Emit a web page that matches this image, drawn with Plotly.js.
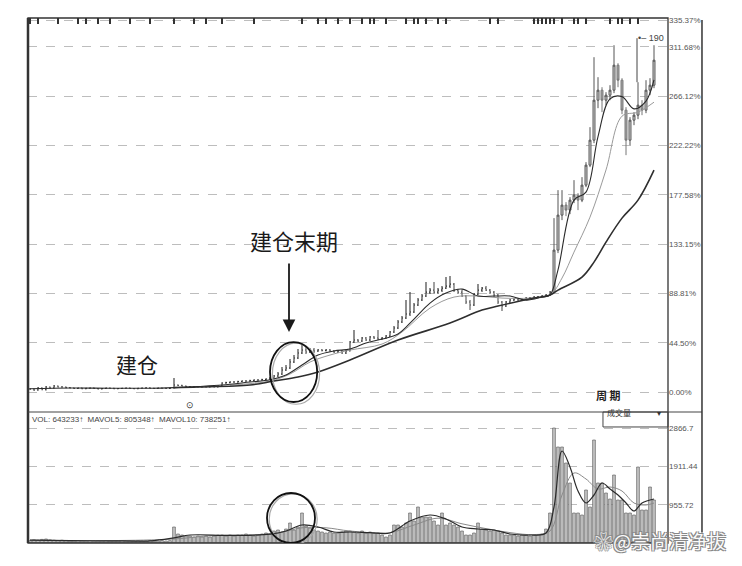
<!DOCTYPE html>
<html><head><meta charset="utf-8">
<script src="https://cdn.plot.ly/plotly-3.0.1.min.js"></script>
<style>html,body{margin:0;padding:0;background:#fff}#chart{width:742px;height:566px}</style>
</head><body><div id="chart"></div>
<script>
// ---- price bars (percent gain) ----
const openP = [3.0,2.7,1.8,3.6,2.0,4.5,3.6,5.4,4.5,4.5,
 4.0,3.6,3.2,3.6,3.0,3.4,3.6,3.2,2.8,3.2,3.6,3.4,3.0,3.2,3.4,3.6,3.2,3.0,3.4,3.6,3.8,3.4,3.2,3.6,3.4,3.2,
 3.6,
 6.3,6.0,5.4,5.0,4.8,4.5,4.5,4.8,4.5,5.0,4.5,
 5.4,8.1,8.5,9.0,9.0,9.5,9.9,9.9,10.3,10.8,10.8,11.2,11.7,
 12.6,14.4,16.2,19.8,21.6,27.0,30.6,35.1,37.8,36.0,37.8,
 36.9,37.8,37.4,37.8,36.9,36.0,36.9,35.1,
 36.9,45.0,46.8,45.9,48.6,46.8,49.5,48.6,47.7,48.6,50.4,54.0,57.6,63.0,66.6,70.2,72.0,78.3,82.8,86.4,90.0,91.8,90.0,91.8,93.6,95.4,97.2,91.8,90.0,86.4,81.0,78.3,88.2,91.8,93.6,91.8,90.0,87.3,81.0,77.4,81.0,82.8,83.7,82.8,83.7,84.6,84.6,85.5,85.5,86.4,87.3,
 90.0,127.8,159.3,168.3,163.8,172.8,177.3,172.8,186.3,204.3,226.8,262.8,271.8,262.8,267.3,271.8,294.3,280.8,253.8,226.8,244.8,249.3,258.3,253.8,271.8,276.3];
const highP = [3.6,3.2,4.5,4.2,5.4,5.0,6.3,5.9,5.4,5.0,
 4.5,4.0,4.1,4.0,3.9,4.1,4.0,3.6,3.6,4.1,4.0,3.8,3.6,3.8,4.1,4.0,3.6,3.8,4.1,4.3,4.2,3.8,4.0,4.0,3.8,4.0,
 12.6,
 6.8,6.5,5.9,5.5,5.3,5.0,5.3,5.3,5.5,5.5,5.9,
 8.8,9.2,9.7,9.7,10.2,10.6,10.6,11.0,11.5,11.5,11.9,12.4,13.5,
 15.3,18.0,22.5,24.3,29.7,33.3,38.7,42.3,40.5,39.6,39.6,
 38.7,38.7,38.7,38.7,37.8,37.8,37.8,37.8,
 45.9,55.8,47.7,49.5,49.5,50.4,50.4,55.8,49.5,51.3,54.9,59.4,64.8,68.4,82.8,90.0,80.1,84.6,88.2,99.0,93.6,99.0,93.6,95.4,103.5,104.4,98.1,92.7,91.8,87.3,82.8,89.1,97.2,94.5,95.4,92.7,90.9,88.2,81.9,81.9,83.7,84.6,84.6,84.6,85.5,85.5,86.4,86.4,87.3,88.2,90.9,
 156.6,181.8,181.8,171.0,175.5,190.8,179.1,193.5,207.0,238.5,301.5,283.5,274.5,270.0,276.3,312.3,296.1,282.6,256.5,247.5,252.0,279.0,262.8,280.8,282.6,312.3];
const lowP = [1.8,1.0,1.2,1.5,1.4,3.0,3.0,4.0,3.8,3.4,
 3.1,2.7,2.7,2.5,2.5,2.9,2.7,2.3,2.3,2.7,2.9,2.5,2.5,2.7,2.9,2.7,2.5,2.5,2.9,3.1,2.9,2.7,2.7,2.9,2.7,2.7,
 3.2,
 5.5,4.9,4.5,4.3,4.0,4.0,4.0,4.0,4.0,4.0,4.0,
 5.0,7.4,7.8,8.3,8.3,8.8,9.2,9.2,9.6,10.1,10.1,10.5,11.0,
 11.7,13.5,15.3,18.9,20.7,26.1,29.7,34.2,34.2,35.1,35.1,
 36.0,36.5,36.5,36.0,35.1,35.1,34.2,34.2,
 36.5,44.1,45.0,45.0,45.9,45.9,47.7,46.8,46.8,47.7,49.5,53.1,56.7,62.1,65.7,68.4,71.1,77.4,81.9,85.5,88.2,88.2,88.2,90.0,92.7,93.6,90.0,88.2,85.5,79.2,73.8,77.4,87.3,90.0,90.9,88.2,85.5,79.2,72.9,76.5,80.1,81.9,81.9,81.9,82.8,83.7,83.7,84.6,84.6,85.5,86.4,
 89.1,125.1,154.8,158.4,160.2,170.1,163.8,171.0,184.5,202.5,224.1,255.6,252.0,258.3,262.8,269.1,274.5,250.2,213.3,222.3,240.3,245.7,249.3,251.1,267.3,273.6];
const closeP = [2.7,1.8,3.6,2.0,4.5,3.6,5.4,4.5,4.5,4.0,
 3.6,3.2,3.6,3.0,3.4,3.6,3.2,2.8,3.2,3.6,3.4,3.0,3.2,3.4,3.6,3.2,3.0,3.4,3.6,3.8,3.4,3.2,3.6,3.4,3.2,3.6,
 6.3,
 6.0,5.4,5.0,4.8,4.5,4.5,4.8,4.5,5.0,4.5,5.4,
 8.1,8.5,9.0,9.0,9.5,9.9,9.9,10.3,10.8,10.8,11.2,11.7,12.6,
 14.4,16.2,19.8,21.6,27.0,30.6,35.1,37.8,36.0,37.8,36.9,
 37.8,37.4,37.8,36.9,36.0,36.9,35.1,36.9,
 45.0,46.8,45.9,48.6,46.8,49.5,48.6,47.7,48.6,50.4,54.0,57.6,63.0,66.6,70.2,72.0,78.3,82.8,86.4,90.0,91.8,90.0,91.8,93.6,95.4,97.2,91.8,90.0,86.4,81.0,78.3,88.2,91.8,93.6,91.8,90.0,87.3,81.0,77.4,81.0,82.8,83.7,82.8,83.7,84.6,84.6,85.5,85.5,86.4,87.3,90.0,
 127.8,159.3,168.3,163.8,172.8,177.3,172.8,186.3,204.3,226.8,262.8,271.8,262.8,267.3,271.8,294.3,280.8,253.8,226.8,244.8,249.3,258.3,253.8,271.8,276.3,298.8];

// ---- volume ----
const volume = [60,80,70,90,100,80,70,60,70,60,50,50,60,50,50,60,50,50,50,60,50,50,50,60,50,50,50,60,50,50,60,50,50,60,50,60,
 400,
 225,200,175,175,150,175,150,175,150,175,200,
 200,175,200,175,200,200,225,200,175,200,225,250,225,
 300,325,275,350,500,325,400,750,425,375,325,
 300,275,250,275,250,250,275,300,
 300,275,250,300,250,275,250,250,200,150,200,450,450,400,500,750,550,900,650,650,650,550,450,750,450,500,450,400,300,200,200,250,500,350,325,300,325,300,250,200,200,200,175,200,200,175,200,200,225,350,750,
 2875,2400,2400,2000,1500,750,750,700,1325,900,2575,1500,1500,1250,1100,1700,1075,1075,750,750,700,1900,825,825,1400,1075];

// ---- moving averages (bar index, value) ----
const maLongIdx = [36,42,55,61,67,72,80,92,105,113,117,126,130,132,138,141,144,148,152,156];
const maLongVal = [4.0,4.5,6.3,9.9,13.5,18.0,28.8,46.8,62.1,73.8,77.4,84.6,87.3,91.8,103.5,117.0,135.0,156.6,172.8,199.8];
const maMidIdx = [50,60,65,70,75,80,88,93,100,106,112,118,125,130,133,136,140,144,148,152,156];
const maMidVal = [6.3,9.9,16.2,27.0,33.3,37.8,43.2,54.0,75.6,85.5,86.4,84.6,84.6,87.3,102.6,126.0,157.5,200.0,248.4,252.0,261.0];
const maShortIdx = [0,10,20,30,36,42,48,55,60,64,68,72,76,80,84,88,92,96,100,104,108,112,116,120,124,128,130,132,136,139,142,145,148,151,154,156];
const maShortVal = [3.0,3.6,3.4,3.4,4.0,5.0,6.3,9.0,11.0,15.3,24.3,33.3,37.0,38.7,44.1,47.7,52.2,65.7,80.1,89.1,92.7,86.4,86.4,86.4,82.8,85.5,87.3,110.0,172.8,180.0,230.0,264.0,266.0,255.0,262.0,281.0];
const vma5Idx = [0,10,20,30,36,40,50,60,64,68,72,76,80,85,90,95,100,104,108,112,116,120,125,129,131,133,135,137,139,141,143,145,147,149,151,153,156];
const vma5Val = [70,60,55,55,130,200,190,220,300,450,400,275,275,260,250,550,700,600,400,350,325,225,200,250,900,2300,1900,1300,1000,1200,1500,1350,1200,1000,800,1000,1100];
const vma10Idx = [0,20,36,45,55,62,68,74,80,90,96,102,108,114,120,126,130,133,136,139,142,145,148,151,154,156];
const vma10Val = [70,60,100,180,200,250,380,380,300,260,450,620,480,360,260,210,300,1200,1750,1600,1350,1400,1300,1000,950,1000];

// ---- axis ticks ----
const priceTicks = [0,44.4,88.8,133.2,177.6,222.0,266.4,310.8,334.8];
const priceTickText = ["0.00%","44.50%","88.81%","133.15%","177.58%","222.22%","266.12%","311.68%","335.37%"];
const volTicks = [955.6,1911.1,2866.7];
const volTickText = ["955.72","1911.44","2866.7"];
const topMarks = [0,2,7,12,14,17,20,25,30,36,41,44,48,56,68,72,74,77,80,83,85,86,89,94,96,97,99,102,104,115,117,126,127,128,129,130,131,133,136,137,139,145,147,148,150,152];

const bars = closeP.map((_, i) => i);
const markIdx = 152;
const split0 = 131; // quiet phase drawn as thin bars, breakout phase as candles
const sl = (a, s, e) => a.slice(s, e);

const traces = [
 {type:'ohlc', x:sl(bars,0,split0), open:sl(openP,0,split0), high:sl(highP,0,split0), low:sl(lowP,0,split0), close:sl(closeP,0,split0),
  xaxis:'x', yaxis:'y', tickwidth:0.25,
  increasing:{line:{color:'#333',width:1.1}}, decreasing:{line:{color:'#555',width:1.1}}, hoverinfo:'skip'},
 {type:'candlestick', x:sl(bars,split0), open:sl(openP,split0), high:sl(highP,split0), low:sl(lowP,split0), close:sl(closeP,split0),
  xaxis:'x', yaxis:'y',
  increasing:{line:{color:'#555',width:1}, fillcolor:'#d6d6d6'},
  decreasing:{line:{color:'#777',width:1}, fillcolor:'#a8a8a8'},
  whiskerwidth:0, hoverinfo:'skip'},
 {type:'scatter', mode:'lines', x:maMidIdx, y:maMidVal, line:{color:'#9a9a9a',width:1,shape:'spline'}, yaxis:'y', hoverinfo:'skip'},
 {type:'scatter', mode:'lines', x:maShortIdx, y:maShortVal, line:{color:'#2a2a2a',width:1.1,shape:'spline'}, yaxis:'y', hoverinfo:'skip'},
 {type:'scatter', mode:'lines', x:maLongIdx, y:maLongVal, line:{color:'#2e2e2e',width:1.6,shape:'spline'}, yaxis:'y', hoverinfo:'skip'},
 {type:'bar', x:bars, y:volume, yaxis:'y2', width:0.7, marker:{color:'#c2c2c2', line:{color:'#555',width:0.6}}, hoverinfo:'skip'},
 {type:'scatter', mode:'lines', x:vma10Idx, y:vma10Val, yaxis:'y2', line:{color:'#8a8a8a',width:1,shape:'spline'}, hoverinfo:'skip'},
 {type:'scatter', mode:'lines', x:vma5Idx, y:vma5Val, yaxis:'y2', line:{color:'#2a2a2a',width:1.2,shape:'spline'}, hoverinfo:'skip'}
];

const split = 0.2495;
const cjk = '"Noto Sans CJK SC", "Noto Sans", sans-serif';
const layout = {
 width:742, height:566, margin:{l:28, r:74, t:18, b:23},
 paper_bgcolor:'#fff', plot_bgcolor:'#fff', showlegend:false,
 font:{family:'"Liberation Sans", Arial, sans-serif', color:'#444'},
 xaxis:{range:[-0.5,159.5], anchor:'y', side:'top', ticks:'inside', ticklen:6, tickwidth:1.5, tickcolor:'#333',
   tickmode:'array', tickvals:topMarks, showticklabels:false, showgrid:false, zeroline:false, showline:false,
   rangeslider:{visible:false}, fixedrange:true},
 yaxis:{domain:[split,1], range:[-18.0,336.8], side:'right', anchor:'x', tickmode:'array', tickvals:priceTicks, ticktext:priceTickText,
   tickfont:{size:8, color:'#555'}, ticks:'', showgrid:true, gridcolor:'#bdbdbd', griddash:'dash', gridwidth:1, zeroline:false, showline:false, fixedrange:true},
 yaxis2:{domain:[0,split], range:[0,3275], side:'right', anchor:'x', tickmode:'array', tickvals:volTicks, ticktext:volTickText,
   tickfont:{size:8, color:'#555'}, ticks:'', showgrid:true, gridcolor:'#bdbdbd', griddash:'dash', gridwidth:1, zeroline:false, showline:false, fixedrange:true},
 shapes:[
  {type:'rect', xref:'paper', yref:'paper', x0:0, x1:1, y0:0, y1:1, line:{color:'#333', width:1.3}},
  {type:'line', xref:'paper', yref:'paper', x0:0, x1:0, y0:0, y1:1, line:{color:'#333', width:2.5}},
  {type:'line', xref:'paper', yref:'paper', x0:0, x1:1.0531, y0:split, y1:split, line:{color:'#444', width:1.2}},
  {type:'line', xref:'paper', yref:'paper', x0:1.0531, x1:1.0531, y0:0.02, y1:0.996, line:{color:'#333', width:1.5}},
  {type:'rect', xref:'paper', yref:'paper', x0:0.8984, x1:1.0, y0:0.221, y1:split, line:{color:'#444', width:1}},
  {type:'circle', xref:'x', yref:'y', x0:60.6, x1:72.4, y0:-11, y1:44, line:{color:'#aaa', width:1.2}},
  {type:'circle', xref:'x', yref:'y', x0:60, x1:71.8, y0:-9, y1:45, line:{color:'#111', width:1.8}},
  {type:'circle', xref:'x', yref:'y2', x0:59.8, x1:71.8, y0:-40, y1:1230, line:{color:'#aaa', width:1.2}},
  {type:'circle', xref:'x', yref:'y2', x0:59.25, x1:71.25, y0:0, y1:1250, line:{color:'#111', width:1.8}},
  {type:'line', xref:'x', yref:'y', x0:markIdx-0.25, x1:markIdx-0.25, y0:highP[markIdx], y1:318.6, line:{color:'#444', width:1}}
 ],
 annotations:[
  {xref:'x', yref:'y', x:66, y:136.8, text:'建仓末期', showarrow:false, font:{family:cjk, size:22, color:'#1a1a1a'}},
  {xref:'x', yref:'y', x:64.75, y:54, ax:0, ay:-70, text:'', showarrow:true, arrowhead:2, arrowsize:1.4, arrowwidth:1.8, arrowcolor:'#1a1a1a'},
  {xref:'x', yref:'y', x:26.75, y:25.2, text:'建仓', showarrow:false, font:{family:cjk, size:21, color:'#1a1a1a'}},
  {xref:'x', yref:'y', x:40, y:-11.7, text:'⊙', showarrow:false, font:{size:9, color:'#333'}},
  {xref:'x', yref:'y', x:markIdx-0.6, y:318.6, xanchor:'left', text:'•– 190', showarrow:false, font:{size:9, color:'#444'}},
  {xref:'paper', yref:'paper', x:0.003, y:0.2343, xanchor:'left', yanchor:'middle', text:'VOL: 643233↑  MAVOL5: 805348↑  MAVOL10: 738251↑', showarrow:false, font:{size:8, color:'#444'}},
  {xref:'paper', yref:'paper', x:0.9297, y:0.2629, text:'<b>周 期</b>', showarrow:false, font:{family:cjk, size:11, color:'#222'}},
  {xref:'paper', yref:'paper', x:0.9453, y:0.2352, text:'成交量', showarrow:false, font:{family:cjk, size:8, color:'#333'}},
  {xref:'paper', yref:'paper', x:0.992, y:0.2352, text:'▾', showarrow:false, font:{size:8, color:'#333'}},
  {xref:'paper', yref:'paper', x:1.094, y:0.004, xanchor:'right', yanchor:'middle', text:'❀@崇尚清净拔', showarrow:false,
   font:{family:cjk, size:19, color:'#fafafa', shadow:'-1px -1px 0 #888, 1px -1px 0 #888, -1px 1px 0 #888, 1px 1px 0 #888'}}
 ]
};
Plotly.newPlot('chart', traces, layout, {displayModeBar:false, staticPlot:true});
</script></body></html>
